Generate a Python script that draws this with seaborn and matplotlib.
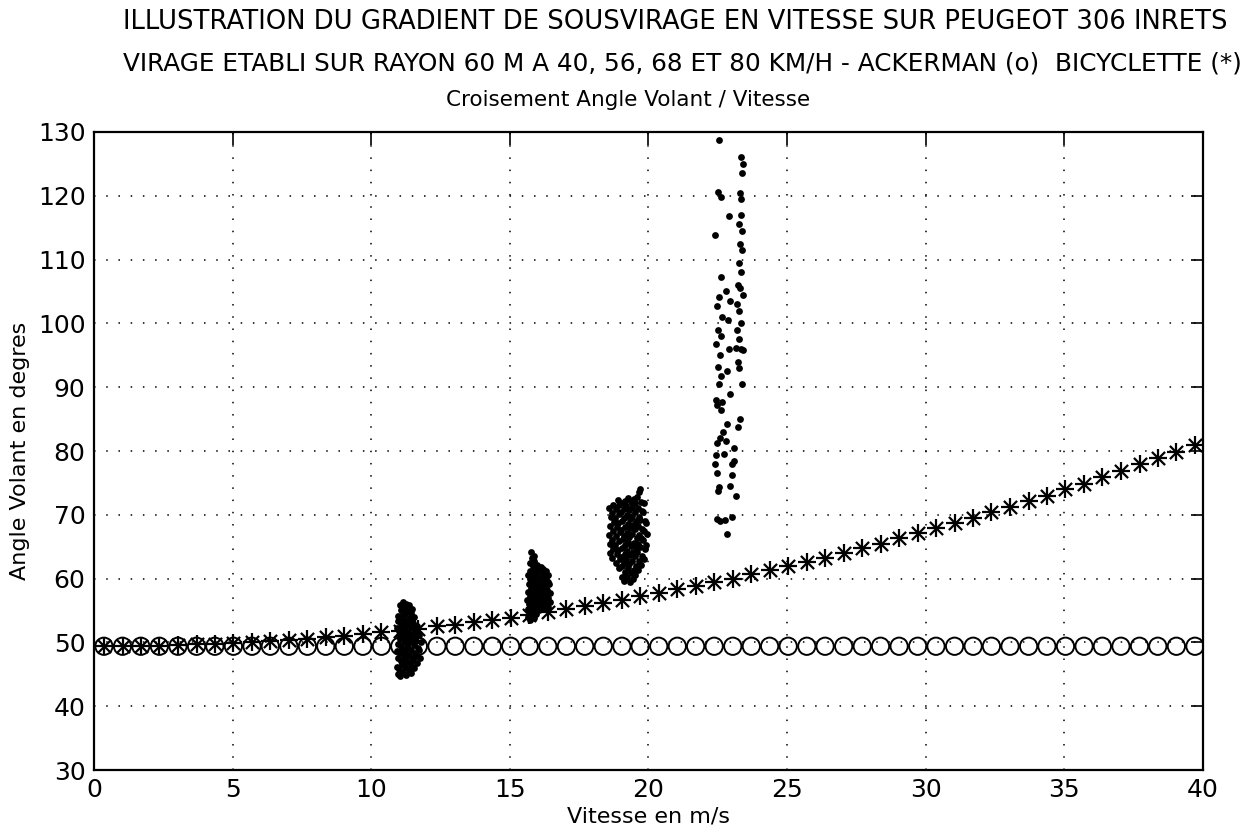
import matplotlib
matplotlib.use("Agg")
import matplotlib.pyplot as plt
import seaborn as sns
import pandas as pd

# ==============================================
# DONNEES
# ==============================================
vitesse = [0.36, 1.03, 1.69, 2.36, 3.03, 3.70, 4.36, 5.03, 5.70, 6.36,
           7.03, 7.70, 8.36, 9.03, 9.70, 10.37, 11.03, 11.70, 12.37, 13.03,
           13.70, 14.37, 15.03, 15.70, 16.37, 17.04, 17.70, 18.37, 19.04, 19.70,
           20.37, 21.04, 21.70, 22.37, 23.04, 23.71, 24.37, 25.04, 25.71, 26.37,
           27.04, 27.71, 28.37, 29.04, 29.71, 30.37, 31.04, 31.71, 32.37, 33.04,
           33.71, 34.37, 35.04, 35.71, 36.37, 37.04, 37.71, 38.37, 39.04, 39.71]

# modele bicyclette (*)
bicyclette = [49.4, 49.4, 49.5, 49.5, 49.6, 49.7, 49.8, 49.9, 50.1, 50.2,
              50.4, 50.6, 50.8, 51.0, 51.3, 51.6, 51.8, 52.1, 52.5, 52.8,
              53.2, 53.5, 53.9, 54.3, 54.8, 55.2, 55.7, 56.2, 56.7, 57.2,
              57.7, 58.3, 58.8, 59.4, 60.0, 60.7, 61.3, 61.9, 62.6, 63.3,
              64.0, 64.8, 65.5, 66.3, 67.1, 67.9, 68.7, 69.5, 70.4, 71.2,
              72.1, 73.0, 74.0, 74.9, 75.9, 76.9, 77.9, 78.9, 79.9, 81.0]

# modele Ackerman (o) : angle constant
ackerman = [49.4] * len(vitesse)

# mesures a 40 km/h
mes40_x = [10.95, 10.93, 10.98, 10.94, 10.97, 10.99, 10.93, 10.96, 10.98,
           11.05, 11.02, 11.07, 11.03, 11.08, 11.04, 11.02, 11.06, 11.03, 11.07, 11.05,
           11.15, 11.12, 11.17, 11.13, 11.18, 11.14, 11.12, 11.16, 11.13, 11.17, 11.15,
           11.25, 11.22, 11.27, 11.23, 11.28, 11.24, 11.22, 11.26, 11.23, 11.27, 11.25,
           11.35, 11.32, 11.37, 11.33, 11.38, 11.34, 11.32, 11.36, 11.33, 11.37,
           11.45, 11.42, 11.47, 11.43, 11.48, 11.44, 11.42, 11.46, 11.43, 11.47,
           11.55, 11.52, 11.57, 11.53, 11.58, 11.54, 11.52, 11.56,
           11.65, 11.62, 11.67, 11.63, 11.68, 11.64,
           11.75, 11.72, 11.78, 11.74]
mes40_y = [45.0, 46.2, 47.5, 48.6, 49.8, 51.0, 52.2, 53.3, 54.2,
           44.7, 45.9, 47.1, 48.3, 49.4, 50.6, 51.8, 52.9, 54.0, 55.1, 55.9,
           45.4, 46.6, 47.8, 49.0, 50.2, 51.3, 52.5, 53.6, 54.7, 55.6, 56.3,
           44.9, 46.1, 47.3, 48.5, 49.7, 50.9, 52.0, 53.2, 54.4, 55.4, 56.1,
           45.6, 46.8, 48.0, 49.2, 50.4, 51.6, 52.7, 53.9, 55.0, 55.8,
           45.2, 46.4, 47.6, 48.8, 50.0, 51.2, 52.4, 53.5, 54.6, 55.3,
           46.0, 47.2, 48.4, 49.6, 50.8, 52.0, 53.1, 54.0,
           46.7, 47.9, 49.1, 50.3, 51.5, 52.6,
           47.5, 48.8, 50.0, 51.2]

# mesures a 56 km/h
mes56_x = [15.65, 15.67, 15.63, 15.66, 15.68, 15.64,
           15.72, 15.74, 15.70, 15.73, 15.75, 15.71, 15.74, 15.72,
           15.80, 15.82, 15.78, 15.81, 15.83, 15.79, 15.82, 15.80, 15.78,
           15.88, 15.90, 15.86, 15.89, 15.91, 15.87, 15.90, 15.88, 15.86,
           15.96, 15.98, 15.94, 15.97, 15.99, 15.95, 15.98,
           16.04, 16.06, 16.02, 16.05, 16.07, 16.03,
           16.12, 16.14, 16.10, 16.13, 16.15, 16.11,
           16.20, 16.22, 16.18, 16.21, 16.23, 16.19,
           16.28, 16.30, 16.26, 16.29, 16.31,
           16.36, 16.38, 16.34, 16.37, 16.39,
           16.44, 16.46, 16.42]
mes56_y = [54.0, 55.3, 56.6, 57.9, 59.2, 60.5,
           53.5, 54.7, 56.0, 57.3, 58.6, 59.9, 61.2, 62.4,
           54.2, 55.5, 56.8, 58.1, 59.4, 60.7, 62.0, 63.3, 64.1,
           53.8, 55.0, 56.3, 57.6, 58.9, 60.2, 61.5, 62.8, 63.6,
           54.4, 55.7, 57.0, 58.3, 59.6, 60.9, 62.1,
           55.1, 56.4, 57.7, 59.0, 60.3, 61.4,
           55.8, 57.1, 58.4, 59.7, 61.0, 61.8,
           55.3, 56.6, 57.9, 59.2, 60.5, 61.5,
           56.0, 57.3, 58.6, 59.9, 61.2,
           55.6, 56.9, 58.2, 59.5, 60.6,
           56.4, 57.8, 59.1]

# mesures a 68 km/h
mes68_x = [18.60, 18.63, 18.57, 18.61, 18.64, 18.58,
           18.70, 18.73, 18.68, 18.72, 18.74, 18.67, 18.71,
           18.82, 18.85, 18.79, 18.83, 18.86, 18.80, 18.84,
           18.93, 18.96, 18.90, 18.94, 18.97, 18.91, 18.95, 18.92, 18.90,
           19.03, 19.06, 19.00, 19.04, 19.07, 19.01, 19.05, 19.02, 19.00,
           19.13, 19.16, 19.10, 19.14, 19.17, 19.11, 19.15, 19.12, 19.10, 19.16,
           19.23, 19.26, 19.20, 19.24, 19.27, 19.21, 19.25, 19.22, 19.20, 19.26,
           19.33, 19.36, 19.30, 19.34, 19.37, 19.31, 19.35, 19.32, 19.30, 19.36,
           19.43, 19.46, 19.40, 19.44, 19.47, 19.41, 19.45, 19.42, 19.40, 19.46,
           19.53, 19.56, 19.50, 19.54, 19.57, 19.51, 19.55, 19.52, 19.50,
           19.63, 19.66, 19.60, 19.64, 19.67, 19.61, 19.65, 19.62, 19.60, 19.66,
           19.73, 19.76, 19.70, 19.74, 19.77, 19.71, 19.75, 19.72, 19.70,
           19.83, 19.86, 19.80, 19.84, 19.87, 19.81, 19.85,
           19.92, 19.95, 19.90]
mes68_y = [64.0, 65.4, 66.8, 68.2, 69.6, 71.0,
           63.2, 64.7, 66.1, 67.5, 68.9, 70.3, 71.6,
           62.4, 63.9, 65.3, 66.7, 68.1, 69.5, 70.9,
           61.7, 63.1, 64.5, 65.9, 67.3, 68.7, 70.1, 71.5, 72.3,
           60.3, 61.9, 63.4, 64.8, 66.2, 67.6, 69.0, 70.4, 71.8,
           59.6, 61.0, 62.5, 63.9, 65.3, 66.7, 68.1, 69.5, 70.9, 72.2,
           60.2, 61.6, 63.0, 64.4, 65.8, 67.2, 68.6, 70.0, 71.4, 72.6,
           59.5, 60.9, 62.3, 63.7, 65.1, 66.5, 67.9, 69.3, 70.7, 72.0,
           60.0, 61.4, 62.8, 64.2, 65.6, 67.0, 68.4, 69.8, 71.2, 72.5,
           60.6, 62.0, 63.5, 64.9, 66.3, 67.7, 69.1, 70.5, 71.9,
           61.3, 62.7, 64.1, 65.5, 66.9, 68.3, 69.7, 71.1, 72.8, 73.6,
           62.1, 63.5, 64.9, 66.4, 67.8, 69.2, 70.6, 72.0, 74.0,
           63.0, 64.6, 66.0, 67.5, 69.0, 70.4, 71.9,
           65.2, 67.0, 68.7]

# mesures a 80 km/h
mes80_x = [22.55, 22.50, 22.60, 22.40, 22.62, 22.55, 22.48, 22.65, 22.52, 22.60,
           22.45, 22.58, 22.50, 22.62, 22.55, 22.42, 22.48, 22.65, 22.60, 22.69,
           22.48, 22.58, 22.73, 22.45, 22.40, 22.47, 22.55, 22.52, 22.48, 22.58,
           22.75, 22.83, 22.93, 23.00, 23.00, 23.07, 22.80, 22.85, 22.95, 22.85,
           22.90, 22.88, 22.95, 22.80, 22.90, 23.02,
           23.35, 23.40, 23.38, 23.30, 23.35, 23.32, 23.28, 23.38, 23.30, 23.36,
           23.25, 23.34, 23.22, 23.30, 23.40, 23.20, 23.28, 23.35, 23.18, 23.25,
           23.15, 23.32, 23.40, 23.22, 23.28, 23.38, 23.30, 23.22, 23.10, 23.15]
mes80_y = [128.8, 120.6, 119.8, 113.8, 107.3, 104.2, 102.8, 101.0, 99.0, 98.0,
           96.8, 95.0, 93.2, 91.8, 90.5, 88.0, 87.2, 87.7, 86.4, 83.0,
           81.2, 82.0, 79.6, 79.4, 77.9, 76.6, 74.3, 73.8, 69.3, 69.0,
           69.2, 67.0, 74.5, 76.3, 77.9, 80.5, 81.5, 84.2, 89.0, 92.5,
           96.0, 100.5, 103.5, 105.0, 116.8, 69.7,
           126.0, 125.0, 123.5, 120.5, 119.5, 117.0, 115.5, 114.5, 112.5, 111.5,
           109.5, 108.0, 106.0, 105.5, 104.5, 103.0, 102.0, 100.0, 99.0, 97.5,
           96.2, 96.0, 95.8, 94.0, 93.0, 90.5, 85.0, 83.8, 78.5, 73.0]

titre1 = "ILLUSTRATION DU GRADIENT DE SOUSVIRAGE EN VITESSE SUR PEUGEOT 306 INRETS"
titre2 = "VIRAGE ETABLI SUR RAYON 60 M A 40, 56, 68 ET 80 KM/H - ACKERMAN (o)  BICYCLETTE (*)"
titre3 = "Croisement Angle Volant / Vitesse"

# ==============================================
# STYLE
# ==============================================
sns.set_style("white")
plt.rcParams['font.family'] = ['DejaVu Sans']
plt.rcParams['text.color'] = 'black'
plt.rcParams['axes.labelcolor'] = 'black'

mesures = pd.DataFrame({
    'vitesse': mes40_x + mes56_x + mes68_x + mes80_x,
    'angle': mes40_y + mes56_y + mes68_y + mes80_y,
})

fig = plt.figure(figsize=(12.56, 8.39), dpi=100)
ax = fig.add_axes([0.0748, 0.0822, 0.8830, 0.7605])

# Ackerman (o)
sns.scatterplot(x=vitesse, y=ackerman, marker='o', s=155, facecolors='none',
                edgecolors='black', linewidth=1.4, ax=ax, zorder=3)
# Bicyclette (*) = + et x superposes
sns.scatterplot(x=vitesse, y=bicyclette, marker='+', s=170, color='black',
                linewidth=1.6, ax=ax, zorder=4)
sns.scatterplot(x=vitesse, y=bicyclette, marker='x', s=90, color='black',
                linewidth=1.6, ax=ax, zorder=4)
# mesures
sns.scatterplot(data=mesures, x='vitesse', y='angle', marker='o', s=24,
                color='black', linewidth=0, ax=ax, zorder=5)

ax.set_xlim(0, 40)
ax.set_ylim(30, 130)
ax.set_xticks(range(0, 41, 5))
ax.set_yticks(range(30, 131, 10))
ax.grid(True, color='black', linestyle=(0, (1, 7)), linewidth=1.1)
ax.tick_params(direction='in', length=9, width=1.2, top=True, right=True,
               labelsize=18, colors='black', pad=6)
for sp in ax.spines.values():
    sp.set_color('black')
    sp.set_linewidth(1.6)

ax.set_xlabel('Vitesse en m/s', fontsize=16, labelpad=3, color='black')
ax.set_ylabel('Angle Volant en degres', fontsize=16, labelpad=6, color='black')

fig.text(0.538, 0.974, titre1, ha='center', va='center', fontsize=18.6, color='black')
fig.text(0.543, 0.924, titre2, ha='center', va='center', fontsize=17.8, color='black')
fig.text(0.500, 0.881, titre3, ha='center', va='center', fontsize=15.5, color='black')

fig.savefig('out.png', dpi=100)
plt.close(fig)
